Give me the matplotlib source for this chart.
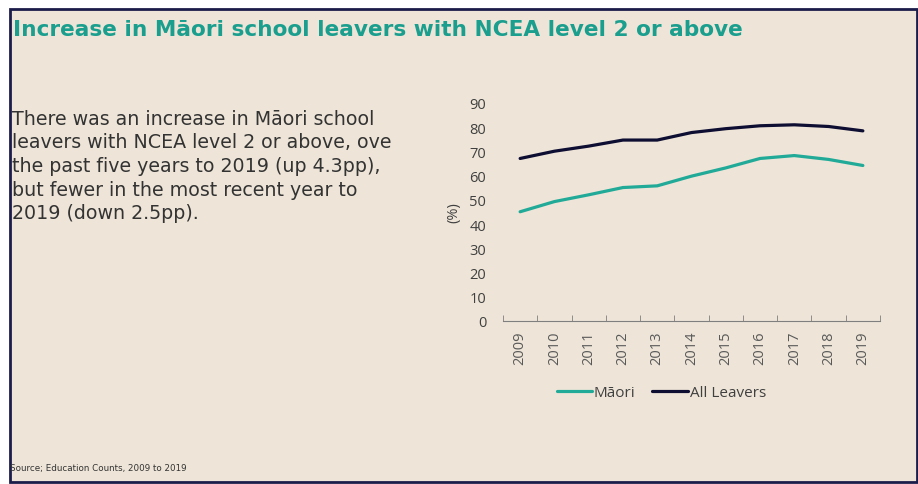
import matplotlib.pyplot as plt
from matplotlib.patches import Rectangle

years = ["2009", "2010", "2011", "2012", "2013", "2014", "2015", "2016", "2017", "2018", "2019"]
maori = [45.1, 49.3, 52.1, 55.1, 55.8, 59.8, 63.2, 67.1, 68.3, 66.7, 64.2]
all_leavers = [67.1, 70.1, 72.2, 74.7, 74.7, 77.8, 79.4, 80.6, 81.0, 80.3, 78.5]
yticks = [0, 10, 20, 30, 40, 50, 60, 70, 80, 90]

title = "Increase in Māori school leavers with NCEA level 2 or above"
body = ("There was an increase in Māori school\n"
        "leavers with NCEA level 2 or above, ove\n"
        "the past five years to 2019 (up 4.3pp),\n"
        "but fewer in the most recent year to\n"
        "2019 (down 2.5pp).")
source = "Source; Education Counts, 2009 to 2019"

bg = "#EEE5D8"
teal = "#22AA98"
navy = "#0E0E33"
W, H = 918, 485

fig = plt.figure(figsize=(W / 100, H / 100), dpi=100, facecolor="white")

# slide frame
fig.patches.append(Rectangle((9.5 / W, 2.5 / H), 907 / W, 473 / H, transform=fig.transFigure,
                             facecolor=bg, edgecolor="#1C1C4A", linewidth=2, zorder=-5))

fig.text(13 / W, 1 - 30 / H, title, color="#1A9E8E", fontsize=15.6, fontweight="bold",
         family="DejaVu Sans", va="center", ha="left")
fig.text(12 / W, 1 - 110 / H, body, color="#333333", fontsize=13.7, family="DejaVu Sans",
         va="top", ha="left", linespacing=1.3)
fig.text(10 / W, 1 - 469 / H, source, color="#333333", fontsize=6.3, family="DejaVu Sans",
         va="center", ha="left")

ax = fig.add_axes([503 / W, 163 / H, 377 / W, 218 / H])
ax.set_zorder(2)
ax.set_facecolor("none")
x = list(range(len(years)))
ax.plot(x, maori, color=teal, lw=2.3, label="Māori", solid_capstyle="round")
ax.plot(x, all_leavers, color=navy, lw=2.3, label="All Leavers", solid_capstyle="round")

ax.set_xlim(-0.5, len(years) - 0.5)
ax.set_ylim(0, 90)
ax.set_yticks(yticks)
ax.set_xticks(x)
ax.set_xticklabels(years, rotation=90)
ax.set_xticks([i - 0.5 for i in range(len(years) + 1)], minor=True)
for s in ["top", "right", "left"]:
    ax.spines[s].set_visible(False)
ax.spines["bottom"].set_color("#7F7F7F")
ax.tick_params(axis="x", which="major", length=0, pad=7, labelsize=10.5, labelcolor="#595959")
ax.tick_params(axis="x", which="minor", length=4, direction="in", color="#7F7F7F")
ax.tick_params(axis="y", length=0, pad=12, labelsize=10.5, labelcolor="#404040")
for lab in ax.get_xticklabels() + ax.get_yticklabels():
    lab.set_family("Open Sans")
ax.set_ylabel("(%)", fontsize=10.5, color="#404040", family="Open Sans", labelpad=6)

leg = ax.legend(loc="center", bbox_to_anchor=(0.42, -0.33), ncol=2, frameon=False,
                handlelength=2.3, handletextpad=0.15, columnspacing=1.1,
                prop={"family": "Open Sans", "size": 11})
for t in leg.get_texts():
    t.set_color("#404040")

fig.savefig("out.png", dpi=100, facecolor="white")
